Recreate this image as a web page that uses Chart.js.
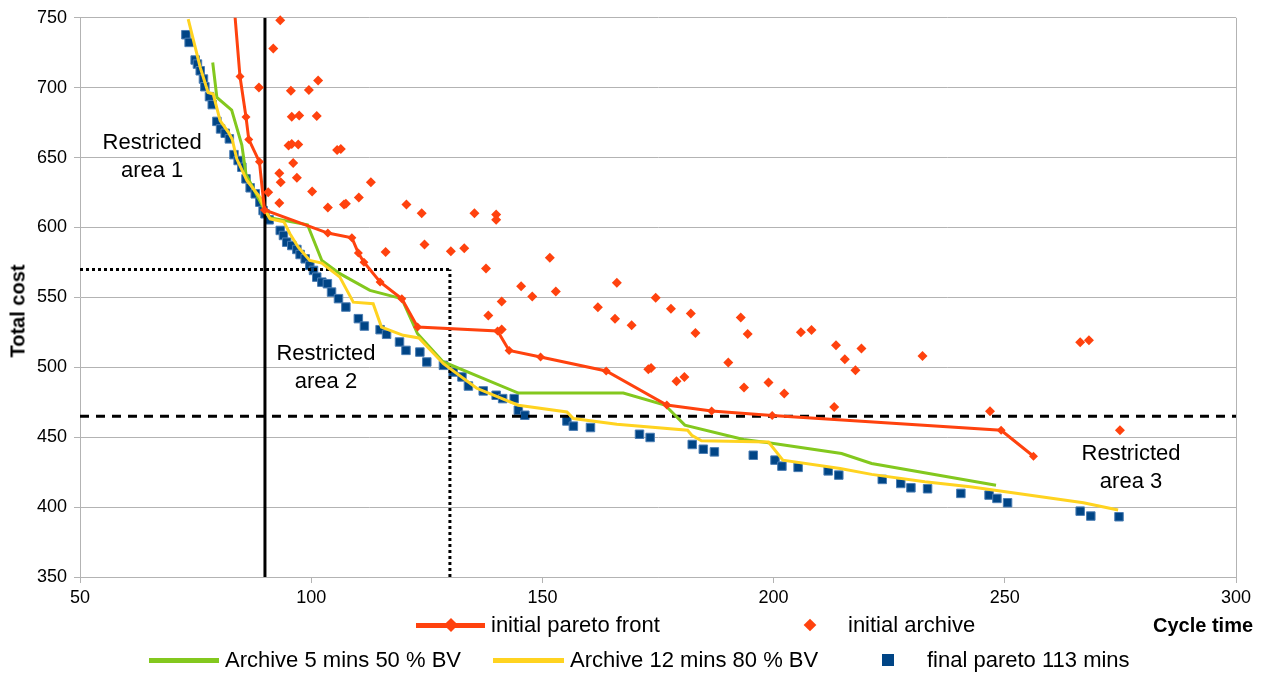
<!DOCTYPE html>
<html>
<head>
<meta charset="utf-8">
<script src="https://cdn.jsdelivr.net/npm/chart.js@4/dist/chart.umd.min.js"></script>
<style>
  html, body { margin: 0; padding: 0; background: #fff; }
  #wrap { position: relative; width: 1265px; height: 675px; font-family: "Liberation Sans", Arial, sans-serif; color: #000; }
  #c { position: absolute; left: 0; top: 0; }
  .ann { position: absolute; transform: translate(-50%, -50%); text-align: center; font-size: 22px; line-height: 28px; white-space: nowrap; }
  .title { position: absolute; font-weight: bold; font-size: 20px; white-space: nowrap; }
  .leg { position: absolute; font-size: 22px; white-space: nowrap; display: flex; align-items: center; height: 26px; transform: translateY(-50%); }
  .sym { position: relative; height: 26px; margin-right: 6px; }
  .sym .ln { position: absolute; left: 0; right: 0; top: 10.5px; height: 5px; }
  .sym .dm { position: absolute; left: 50%; top: 50%; transform: translate(-50%, -50%) rotate(45deg); }
  .sym .sq { position: absolute; left: 50%; top: 50%; transform: translate(-50%, -50%); }
</style>
</head>
<body>
<div id="wrap">
  <canvas id="c" width="1265" height="675"></canvas>
</div>
<script>
// ---------------- DATA ----------------
const xTicks = [50, 100, 150, 200, 250, 300];
const yTicks = [350, 400, 450, 500, 550, 600, 650, 700, 750];

const seriesLabels = ["initial pareto front", "initial archive", "Archive 5 mins 50 % BV", "Archive 12 mins 80 % BV", "final pareto 113 mins"];

const initialParetoFront = [
  [83.3,760],[84.6,708],[85.9,679],[86.5,663],[88.8,647],[89.9,612.5],[103.6,596],[108.8,592.6],
  [110.2,581.7],[111.4,575.2],[114.9,561],[119.6,549],[123.0,528.8],[140.3,526],[142.8,512],
  [149.6,507.4],[163.8,497.4],[176.9,473],[186.6,468.8],[199.7,465.5],[249.2,455],[256.2,436.4]
];

const initialArchive = [
  [93.3,748.3],[91.8,728],[88.7,700.2],[95.6,697.9],[99.5,698.3],[101.5,705.2],[95.8,679.3],[97.4,680.2],
  [101.2,679.8],[95.1,658.6],[95.8,659.8],[97.2,659.3],[105.6,655.5],[106.4,656.2],[96.1,646.2],[93.1,638.8],
  [93.4,632.4],[96.9,635.5],[112.9,632.4],[90.7,625.2],[100.2,625.7],[93.1,617.6],[103.6,614.3],[107.1,616.4],
  [107.5,616.9],[110.3,621.4],[120.6,616.4],[123.9,610.2],[135.3,610.2],[140.0,609.3],[140.0,605.5],
  [116.1,582.4],[124.5,587.9],[130.2,583.0],[133.1,585.2],[137.8,570.7],[141.2,547.1],[138.3,537.1],
  [141.2,527.0],[145.4,557.9],[147.8,550.7],[151.6,578.4],[152.9,554.3],[162.0,542.9],[166.1,560.5],
  [165.7,534.8],[169.3,530.0],[174.5,549.8],[177.8,541.9],[182.1,538.4],[183.1,524.5],[172.9,498.6],
  [173.5,499.5],[179.0,490.0],[180.7,493.1],[190.2,503.4],[192.9,535.7],[194.4,523.8],[193.6,485.5],
  [198.9,489.1],[202.3,481.2],[205.9,525.0],[208.2,526.6],[213.5,515.7],[215.4,505.7],[219.0,513.4],
  [217.7,497.9],[213.1,471.6],[232.2,508.1],[246.8,468.6],[266.3,517.9],[268.2,519.3],[274.9,455.0]
];

const archive5min = [
  [78.7,718],[79.6,693],[82.8,684],[85.0,659],[85.9,638],[89.6,614.5],[91.0,607],[99.2,602],
  [102.3,576.4],[106.2,567],[112.7,555],[118.5,550],[119.6,549],[123.0,524],[128.5,504],
  [144.8,481.6],[167.5,481.6],[176.5,473],[180.8,458.6],[193.5,448.4],[198.9,446],[214.7,438.3],
  [221.2,431.2],[248.1,415.7]
];

const archive12min = [
  [73.4,749],[76.0,714.5],[77.7,696.6],[78.8,695.5],[80.3,676.4],[82.1,668.1],[82.9,663.3],[83.9,649.1],
  [86.1,633.6],[88.9,621.6],[90.0,612.6],[91.1,606.2],[94.1,604],[95.4,595.5],[97.2,585.9],[99.7,576.4],
  [102.3,574.5],[106.2,564.5],[109.1,546.6],[113.4,545.5],[115.2,528.8],[119.9,522.9],[123.3,521],
  [128.6,502.6],[135.8,485],[144.8,472.9],[155.3,468.1],[156.7,463.4],[166.1,459.3],[181.4,455],
  [182.3,451.4],[184.4,447.5],[198.9,446.6],[202.0,433.6],[214.4,427.6],[221.2,423.4],[232.7,418.1],
  [242.5,414.5],[267.0,403.1],[274.5,397.9]
];

const finalPareto = [
  [72.9,737.9],[73.6,732.4],[74.9,719.8],[75.4,716.9],[76.0,712.1],[76.7,706.2],[77.0,700.7],[78.0,693.6],
  [78.6,687.9],[79.6,675.9],[80.4,670.5],[81.4,667.4],[82.3,663.4],[83.3,652.1],[84.2,647.9],[85.0,643.1],
  [85.9,634.8],[86.8,628.4],[87.9,624.1],[88.9,618.1],[89.6,612.1],[90.0,609.8],[90.9,605.5],[93.3,597.9],
  [94.0,594.3],[94.7,589.5],[95.8,587.1],[96.9,584.3],[97.6,580.7],[98.7,577.6],[99.7,572.9],[100.5,569.3],
  [101.2,564.5],[102.3,560.9],[103.5,559.8],[104.4,553.8],[105.9,549.1],[107.5,543.1],[110.2,534.8],
  [111.5,529.5],[114.9,526.9],[116.3,523.6],[119.1,518.1],[120.5,512.1],[123.5,510.9],[125.0,503.8],
  [128.6,501.4],[130.7,496.6],[132.6,493.1],[134.0,486.6],[137.2,483.1],[140.0,480.0],[141.4,477.6],
  [143.9,477.6],[144.8,469.3],[146.2,465.7],[155.3,461.6],[156.7,457.9],[160.4,456.9],[171.0,452.1],
  [173.3,449.8],[182.4,444.8],[184.8,441.4],[187.2,439.5],[195.6,437.1],[200.3,433.6],[201.8,429.3],
  [205.3,428.4],[211.8,425.9],[214.1,422.9],[223.5,419.8],[227.5,416.9],[229.7,413.8],[233.3,413.1],
  [240.5,409.8],[246.6,408.6],[248.3,406.2],[250.6,403.1],[266.3,397.1],[268.6,393.6],[274.7,393.1]
];

// restriction limits (cycle time 90, cycle time 130 / cost 570, cost 465)
const limitSolid = [[90,350],[90,750]];
const limitDottedV = [[130,350],[130,570]];
const limitDottedH = [[50,570],[130,570]];
const limitDashed = [[50,465],[300,465]];

const annotations = [
  { text: ["Restricted", "area 1"], x: 65.6, y: 651.4 },
  { text: ["Restricted", "area 2"], x: 103.2, y: 500.0 },
  { text: ["Restricted", "area 3"], x: 277.3, y: 428.6 }
];

// ---------------- CHART ----------------
const RED = '#ff420e', GREEN = '#83c81e', YELLOW = '#ffd320', BLUE = '#004586', GRID = '#b3b3b3';
const toPts = a => a.map(p => ({ x: p[0], y: p[1] }));

const refLine = (data, dash) => ({
  label: '_ref', data: toPts(data), showLine: true, borderColor: '#000', borderWidth: 3,
  borderDash: dash, pointRadius: 0, order: 5, borderCapStyle: 'butt'
});

const chart = new Chart(document.getElementById('c'), {
  type: 'scatter',
  data: {
    datasets: [
      { label: seriesLabels[0], data: toPts(initialParetoFront), showLine: true, borderColor: RED, borderWidth: 3,
        pointStyle: 'rectRot', pointRadius: 4.5, pointBackgroundColor: RED, pointBorderWidth: 0, order: 1 },
      { label: seriesLabels[1], data: toPts(initialArchive), showLine: false,
        pointStyle: 'rectRot', pointRadius: 5, pointBackgroundColor: RED, pointBorderWidth: 0, order: 2, clip: false },
      { label: seriesLabels[2], data: toPts(archive5min), showLine: true, borderColor: GREEN, borderWidth: 3,
        pointRadius: 0, order: 4 },
      { label: seriesLabels[3], data: toPts(archive12min), showLine: true, borderColor: YELLOW, borderWidth: 3,
        pointRadius: 0, order: 3 },
      { label: seriesLabels[4], data: toPts(finalPareto), showLine: false,
        pointStyle: 'rect', pointRadius: 6, pointBackgroundColor: BLUE, pointBorderColor: '#4a7db3', pointBorderWidth: 1, order: 6, clip: false },
      refLine(limitSolid, []),
      refLine(limitDottedV, [3, 3]),
      refLine(limitDottedH, [3, 3]),
      refLine(limitDashed, [9, 7])
    ]
  },
  options: {
    responsive: false,
    animation: false,
    devicePixelRatio: 1,
    layout: { padding: { left: 0, right: 29, top: 17, bottom: 0 } },
    plugins: { legend: { display: false }, tooltip: { enabled: false } },
    scales: {
      x: {
        type: 'linear', min: 50, max: 300,
        afterBuildTicks: s => { s.ticks = xTicks.map(v => ({ value: v })); },
        afterFit: s => { s.height = 98; },
        ticks: { font: { family: 'Liberation Sans', size: 18 }, color: '#000', padding: 4, maxRotation: 0 },
        grid: { color: c => (c.tick && c.tick.value === 300) ? GRID : 'rgba(0,0,0,0)', tickColor: GRID, tickLength: 6, lineWidth: 1 },
        border: { color: GRID, width: 1 }
      },
      y: {
        type: 'linear', min: 350, max: 750,
        afterBuildTicks: s => { s.ticks = yTicks.map(v => ({ value: v })); },
        afterFit: s => { s.width = 80; },
        ticks: { font: { family: 'Liberation Sans', size: 18 }, color: '#000', padding: 7 },
        grid: { color: GRID, tickColor: GRID, tickLength: 6, lineWidth: 1 },
        border: { color: GRID, width: 1 }
      }
    }
  }
});

// ---------------- HTML TEXT (annotations, titles, legend) ----------------
const wrap = document.getElementById('wrap');
const xs = chart.scales.x, ys = chart.scales.y;
annotations.forEach(a => {
  const d = document.createElement('div');
  d.className = 'ann';
  d.innerHTML = a.text.join('<br>');
  d.style.left = xs.getPixelForValue(a.x) + 'px';
  d.style.top = ys.getPixelForValue(a.y) + 'px';
  wrap.appendChild(d);
});

const yt = document.createElement('div');
yt.className = 'title';
yt.textContent = 'Total cost';
yt.style.left = '18px'; yt.style.top = '311px';
yt.style.transform = 'translate(-50%, -50%) rotate(-90deg)';
wrap.appendChild(yt);

const xt = document.createElement('div');
xt.className = 'title';
xt.textContent = 'Cycle time';
xt.style.left = '1153px'; xt.style.top = '625px';
xt.style.transform = 'translateY(-50%)';
wrap.appendChild(xt);

const legendItems = [
  { i: 0, left: 416, top: 625, w: 69, kind: 'linedm', color: RED },
  { i: 1, left: 778, top: 625, w: 64, kind: 'dm', color: RED },
  { i: 2, left: 149, top: 660, w: 70, kind: 'line', color: GREEN },
  { i: 3, left: 493, top: 660, w: 71, kind: 'line', color: YELLOW },
  { i: 4, left: 855, top: 660, w: 66, kind: 'sq', color: BLUE }
];
legendItems.forEach(it => {
  const d = document.createElement('div');
  d.className = 'leg';
  d.style.left = it.left + 'px';
  d.style.top = it.top + 'px';
  const sym = document.createElement('div');
  sym.className = 'sym';
  sym.style.width = it.w + 'px';
  if (it.kind === 'line' || it.kind === 'linedm') {
    const l = document.createElement('div'); l.className = 'ln'; l.style.background = it.color; sym.appendChild(l);
  }
  if (it.kind === 'dm' || it.kind === 'linedm') {
    const m = document.createElement('div'); m.className = 'dm';
    const s = it.kind === 'dm' ? 9 : 10;
    m.style.width = s + 'px'; m.style.height = s + 'px'; m.style.background = it.color; sym.appendChild(m);
  }
  if (it.kind === 'sq') {
    const m = document.createElement('div'); m.className = 'sq';
    m.style.width = '12px'; m.style.height = '12px'; m.style.background = it.color; sym.appendChild(m);
  }
  d.appendChild(sym);
  const t = document.createElement('span');
  t.textContent = seriesLabels[it.i];
  d.appendChild(t);
  wrap.appendChild(d);
});
</script>
</body>
</html>
